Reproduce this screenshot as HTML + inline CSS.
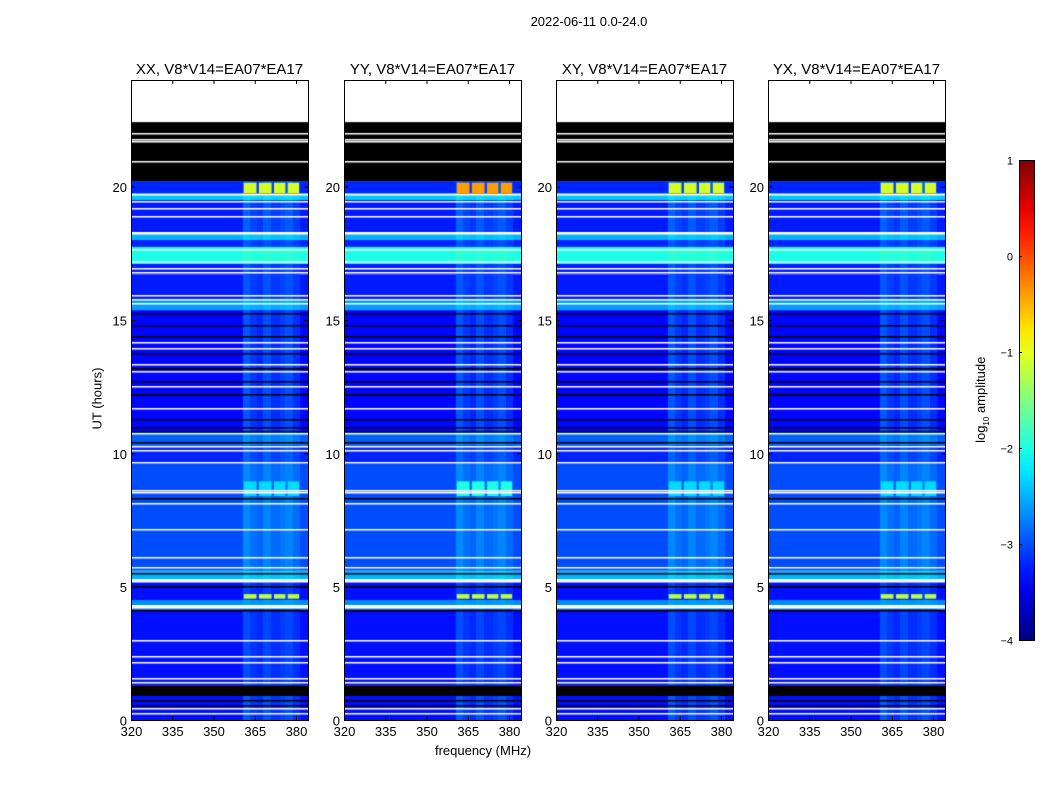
<!DOCTYPE html>
<html><head><meta charset="utf-8">
<style>
body{margin:0;background:#fff;font-family:"Liberation Sans",sans-serif;}
#fig{position:relative;width:1050px;height:800px;overflow:hidden;background:#fff;}
.t{position:absolute;color:#000;white-space:nowrap;}
canvas{position:absolute;}
</style></head><body>
<div id="fig">
<div class="t" style="left:489px;top:14px;width:200px;text-align:center;font-size:13px;">2022-06-11 0.0-24.0</div>
<div class="t" style="left:383px;top:743px;width:200px;text-align:center;font-size:13px;">frequency (MHz)</div>
<div class="t" style="left:47px;top:391px;width:100px;text-align:center;font-size:13px;transform:rotate(-90deg);">UT (hours)</div>
<div class="t" style="left:922px;top:391px;width:120px;text-align:center;font-size:13px;transform:rotate(-90deg);">log<sub style="font-size:8px">10</sub> amplitude</div>
<svg id="axes" width="1050" height="800" style="position:absolute;left:0;top:0"></svg>
</div>
<script>
// ---- data ----
const panelTitles=["XX, V8*V14=EA07*EA17","YY, V8*V14=EA07*EA17","XY, V8*V14=EA07*EA17","YX, V8*V14=EA07*EA17"];
const xTicks=[320,335,350,365,380];
const yTicks=[0,5,10,15,20];
const cbTicks=[1,0,-1,-2,-3,-4];
// base bands: [hourStart, hourEnd, log10 level (NaN=flagged white, -99=black), boost in RFI columns]
const bandStart=[22.42,20.21,19.76,19.5,18.3,18.0,17.74,17.1,16.7,15.75,15.37,10.8,10.3,9.6,5.6,5.2,4.5,4.15,1.3,0.9,0];
const bandEnd=[24,22.42,20.21,19.76,19.5,18.3,18.0,17.74,17.1,16.7,15.75,15.37,10.8,10.3,9.6,5.6,5.2,4.5,4.15,1.3,0.9];
const bandLevel=[NaN,-99,-3.2,-2.4,-3.25,-2.5,-3.2,-2.0,-3.25,-3.25,-2.6,-3.35,-2.9,-3.2,-3.0,-2.5,-3.3,-2.7,-3.3,-99,-3.3];
const bandBoost=[0,0,0.25,0.15,0.35,0.15,0.25,0.1,0.3,0.3,0.15,0.4,0.25,0.3,0.3,0.15,0.25,0.1,0.3,0,0.35];
// RFI frequency columns: [fStart,fEnd,multiplier]
const colStart=[360.7,363.5,366,368,371,374,376,379];
const colEnd=[363.5,366,368,371,374,376,379,381.5];
const colMult=[1.0,0.6,0.4,0.9,0.5,0.7,0.9,0.5];
// strong RFI blocks (frequency squares)
const blockF0=[361,366.5,372,377];
const blockF1=[366,371.5,376.5,381.5];
const blockH0=[19.76,19.66,4.55,8.4];
const blockH1=[20.15,19.76,4.72,8.95];
const blockVal=[[-1.1,-0.3,-1.2,-2.3],[-0.4,-0.2,-1.2,-2.0],[-1.1,-0.3,-1.2,-2.3],[-1.1,-0.3,-1.2,-2.3]];
// flagged lines (hours)
const whiteLines=[22.0,21.8,21.7,20.95,19.74,19.45,19.2,18.9,18.3,17.68,17.2,16.95,16.8,15.95,15.8,15.62,14.17,13.95,13.35,13.09,12.53,11.7,10.76,10.27,10.13,9.67,8.62,8.55,8.14,7.16,6.11,5.74,5.3,4.3,3.0,2.4,2.17,1.57,1.42,0.45,0.26];
const whiteThick=[1,1,1,1,1,1,1,1,2,1,1,1,1,1,1,1,1,1,1,1,1,1,1,1,1,1,1,1,1,1,1,1,3,3,1,1,1,1,1,1,1];
const blackLines=[15.26,14.81,14.4,13.76,13.2,12.71,12.22,11.29,10.99,10.84,10.43,8.32,5.51,5.02,4.12,0.75,0.56];

// ---- layout ----
const panelLeft=[131,344,556,768], PW=177, PT=80, PH=640;
const fMin=320, fMax=320+177/2.75, hMax=24;
function xs(f){return (f-fMin)/(fMax-fMin)*PW;}
function ys(h){return (hMax-h)/hMax*PH;}
function jet(v){
  let t=(v+4)/5; t=Math.max(0,Math.min(1,t));
  const c=x=>Math.round(255*Math.max(0,Math.min(1,x)));
  return `rgb(${c(1.5-Math.abs(4*t-3))},${c(1.5-Math.abs(4*t-2))},${c(1.5-Math.abs(4*t-1))})`;
}
const fig=document.getElementById('fig');
const svg=document.getElementById('axes');
const NS='http://www.w3.org/2000/svg';
function sv(tag,attrs,name){const e=document.createElementNS(NS,tag);for(const k in attrs)e.setAttribute(k,attrs[k]);


svg.appendChild(e);return e;}

panelTitles.forEach((title,p)=>{
  const L=panelLeft[p];
  const cv=document.createElement('canvas');
  cv.width=PW;cv.height=PH;cv.style.left=L+'px';cv.style.top=PT+'px';
  
  
  fig.insertBefore(cv,svg);
  const g=cv.getContext('2d');
  for(let i=0;i<bandLevel.length;i++){
    const y0=ys(bandEnd[i]),y1=ys(bandStart[i]);
    const lv=bandLevel[i];
    if(isNaN(lv)){g.fillStyle='#fff';g.fillRect(0,y0,PW,y1-y0);continue;}
    if(lv<=-99){g.fillStyle='#000';g.fillRect(0,y0,PW,y1-y0);continue;}
    g.fillStyle=jet(lv);g.fillRect(0,y0,PW,y1-y0);
    for(let j=0;j<colMult.length;j++){
      g.fillStyle=jet(lv+bandBoost[i]*colMult[j]);
      g.fillRect(xs(colStart[j]),y0,xs(colEnd[j])-xs(colStart[j]),y1-y0);
    }
  }
  for(let b=0;b<blockH0.length;b++){
    g.fillStyle=jet(blockVal[p][b]);
    for(let k=0;k<blockF0.length;k++){
      const y0=ys(blockH1[b]),y1=ys(blockH0[b]);
      g.fillRect(xs(blockF0[k]),y0,xs(blockF1[k])-xs(blockF0[k])-1,y1-y0);
    }
  }
  g.fillStyle='#fff';
  whiteLines.forEach((h,i)=>{g.fillRect(0,Math.round(ys(h)),PW,whiteThick[i]+0.5);});
  g.fillStyle='#000';
  blackLines.forEach(h=>{g.fillRect(0,Math.round(ys(h)),PW,1.5);});

  sv('rect',{x:L+0.5,y:PT+0.5,width:PW,height:PH,fill:'none',stroke:'#000','stroke-width':1},'panel-frame-'+(p+1));
  const t=sv('text',{x:L+PW/2,y:74,'text-anchor':'middle','font-size':15,'font-family':'Liberation Sans, sans-serif'},'panel-title-'+(p+1));
  t.textContent=title;
  xTicks.forEach(f=>{
    const x=L+xs(f)+0.5;
    sv('line',{x1:x,x2:x,y1:PT+PH,y2:PT+PH-4,stroke:'#000'},'x-tick');
    sv('line',{x1:x,x2:x,y1:PT,y2:PT+4,stroke:'#000'},'x-tick-top');
    const tx=sv('text',{x:x,y:736,'text-anchor':'middle','font-size':13,'font-family':'Liberation Sans, sans-serif'},'x-tick-label');
    tx.textContent=f;
  });
  yTicks.forEach(h=>{
    const y=PT+ys(h)+0.5;
    sv('line',{x1:L,x2:L+4,y1:y,y2:y,stroke:'#000'},'y-tick');
    sv('line',{x1:L+PW,x2:L+PW-4,y1:y,y2:y,stroke:'#000'},'y-tick-right');
    const ty=sv('text',{x:L-4,y:y+5,'text-anchor':'end','font-size':13,'font-family':'Liberation Sans, sans-serif'},'y-tick-label');
    ty.textContent=h;
  });
});

// colorbar
const CBX=1019,CBY=160,CBW=15,CBH=480;
const defs=sv('defs',{},'colorbar-defs');
const grad=document.createElementNS(NS,'linearGradient');
grad.setAttribute('id','jetg');grad.setAttribute('x1','0');grad.setAttribute('y1','1');grad.setAttribute('x2','0');grad.setAttribute('y2','0');
for(let i=0;i<=20;i++){const s=document.createElementNS(NS,'stop');s.setAttribute('offset',i/20);s.setAttribute('stop-color',jet(-4+5*i/20));grad.appendChild(s);}
defs.appendChild(grad);
sv('rect',{x:CBX+0.5,y:CBY+0.5,width:CBW,height:CBH,fill:'url(#jetg)',stroke:'#000'},'colorbar');
cbTicks.forEach(v=>{
  const y=CBY+(1-v)/5*CBH+0.5;
  sv('line',{x1:CBX,x2:CBX+3,y1:y,y2:y,stroke:'#000'},'colorbar-tick');
  const t=sv('text',{x:CBX-6,y:y+4,'text-anchor':'end','font-size':11,'font-family':'Liberation Sans, sans-serif'},'colorbar-tick-label');
  t.textContent=v<0?'\u2212'+(-v):v;
});
</script>
</body></html>
